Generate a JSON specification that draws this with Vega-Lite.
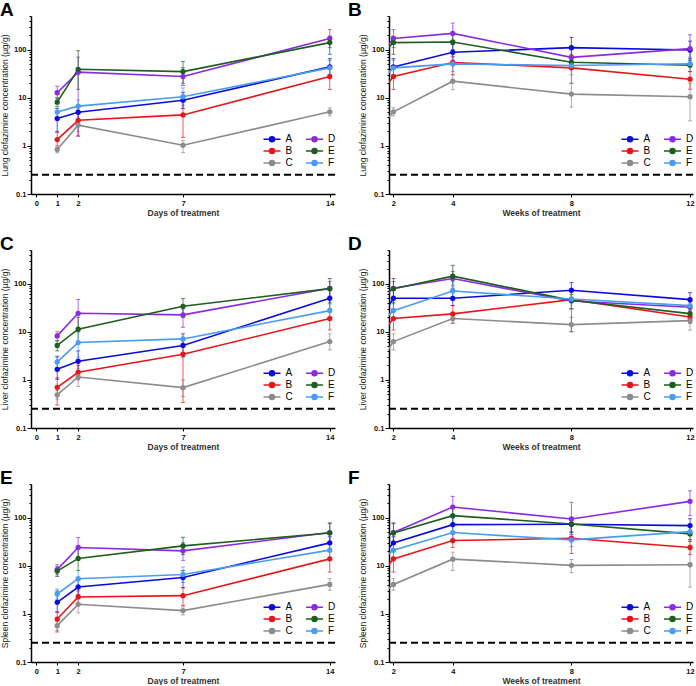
{
"$schema": "https://vega.github.io/schema/vega-lite/v6.json",
"padding": {"left": 0, "top": 0, "right": 0, "bottom": 0},
"datasets": {
"A": [
{"g":"A","t":1,"v":3.7,"lo":2.0,"hi":6.0},{"g":"A","t":2,"v":5.0,"lo":3.5,"hi":7.0},{"g":"A","t":7,"v":8.9,"lo":6.0,"hi":13},{"g":"A","t":14,"v":43.8,"lo":30,"hi":65},
{"g":"B","t":1,"v":1.35,"lo":1.0,"hi":1.9},{"g":"B","t":2,"v":3.4,"lo":1.6,"hi":5.0},{"g":"B","t":7,"v":4.4,"lo":1.5,"hi":8.5},{"g":"B","t":14,"v":27.6,"lo":14.9,"hi":40},
{"g":"C","t":1,"v":0.84,"lo":0.72,"hi":0.95},{"g":"C","t":2,"v":2.7,"lo":2.0,"hi":3.2},{"g":"C","t":7,"v":1.03,"lo":0.73,"hi":1.3},{"g":"C","t":14,"v":5.1,"lo":4.2,"hi":6.2},
{"g":"D","t":1,"v":12.7,"lo":9.5,"hi":17.4},{"g":"D","t":2,"v":34,"lo":1.6,"hi":70},{"g":"D","t":7,"v":27.6,"lo":18,"hi":42},{"g":"D","t":14,"v":171,"lo":110,"hi":260},
{"g":"E","t":1,"v":8.1,"lo":6.5,"hi":10},{"g":"E","t":2,"v":39,"lo":15,"hi":95},{"g":"E","t":7,"v":35,"lo":20,"hi":57},{"g":"E","t":14,"v":140,"lo":80,"hi":190},
{"g":"F","t":1,"v":5.05,"lo":4.0,"hi":6.0},{"g":"F","t":2,"v":6.7,"lo":5.0,"hi":9.0},{"g":"F","t":7,"v":10.5,"lo":7,"hi":16},{"g":"F","t":14,"v":41.8,"lo":30,"hi":60}
],
"B": [
{"g":"A","t":1,"v":8.9,"lo":6,"hi":13},{"g":"A","t":2,"v":43.8,"lo":30,"hi":65},{"g":"A","t":4,"v":88,"lo":60,"hi":130},{"g":"A","t":8,"v":110,"lo":70,"hi":180},{"g":"A","t":12,"v":98,"lo":60,"hi":150},
{"g":"B","t":1,"v":4.4,"lo":1.5,"hi":8.5},{"g":"B","t":2,"v":27.6,"lo":14.9,"hi":40},{"g":"B","t":4,"v":53.8,"lo":30,"hi":73},{"g":"B","t":8,"v":41.8,"lo":20,"hi":80},{"g":"B","t":12,"v":24.3,"lo":15,"hi":35},
{"g":"C","t":1,"v":1.03,"lo":0.73,"hi":1.3},{"g":"C","t":2,"v":5.1,"lo":4.2,"hi":6.2},{"g":"C","t":4,"v":22.1,"lo":14.9,"hi":30},{"g":"C","t":8,"v":11.9,"lo":6.4,"hi":20},{"g":"C","t":12,"v":10.5,"lo":3.3,"hi":20},
{"g":"D","t":1,"v":27.6,"lo":18,"hi":42},{"g":"D","t":2,"v":171,"lo":110,"hi":260},{"g":"D","t":4,"v":218,"lo":127,"hi":356},{"g":"D","t":8,"v":69,"lo":50,"hi":100},{"g":"D","t":12,"v":105,"lo":50,"hi":204},
{"g":"E","t":1,"v":35,"lo":20,"hi":57},{"g":"E","t":2,"v":140,"lo":80,"hi":190},{"g":"E","t":4,"v":144,"lo":100,"hi":200},{"g":"E","t":8,"v":54.7,"lo":40,"hi":75},{"g":"E","t":12,"v":47.4,"lo":35,"hi":65},
{"g":"F","t":1,"v":10.5,"lo":7,"hi":16},{"g":"F","t":2,"v":41.8,"lo":30,"hi":60},{"g":"F","t":4,"v":50.5,"lo":35,"hi":70},{"g":"F","t":8,"v":46.7,"lo":30,"hi":65},{"g":"F","t":12,"v":51,"lo":35,"hi":70}
],
"C": [
{"g":"A","t":1,"v":1.66,"lo":1.03,"hi":3.1},{"g":"A","t":2,"v":2.44,"lo":1.5,"hi":4},{"g":"A","t":7,"v":5.2,"lo":3,"hi":7},{"g":"A","t":14,"v":49.6,"lo":30,"hi":80},
{"g":"B","t":1,"v":0.70,"lo":0.3,"hi":1.1},{"g":"B","t":2,"v":1.44,"lo":1.0,"hi":2.0},{"g":"B","t":7,"v":3.41,"lo":0.34,"hi":9},{"g":"B","t":14,"v":18.8,"lo":10.9,"hi":28},
{"g":"C","t":1,"v":0.49,"lo":0.4,"hi":0.6},{"g":"C","t":2,"v":1.15,"lo":0.73,"hi":1.75},{"g":"C","t":7,"v":0.69,"lo":0.45,"hi":1.0},{"g":"C","t":14,"v":6.25,"lo":4.2,"hi":9},
{"g":"D","t":1,"v":8.2,"lo":6.5,"hi":10},{"g":"D","t":2,"v":24.2,"lo":10,"hi":47},{"g":"D","t":7,"v":22.4,"lo":12.4,"hi":30},{"g":"D","t":14,"v":80,"lo":55,"hi":110},
{"g":"E","t":1,"v":5.2,"lo":4,"hi":6.5},{"g":"E","t":2,"v":11.3,"lo":6,"hi":20},{"g":"E","t":7,"v":33.8,"lo":20,"hi":49},{"g":"E","t":14,"v":78.7,"lo":40,"hi":128},
{"g":"F","t":1,"v":2.36,"lo":1.8,"hi":3},{"g":"F","t":2,"v":5.96,"lo":3,"hi":10},{"g":"F","t":7,"v":7.1,"lo":5,"hi":9.3},{"g":"F","t":14,"v":27.5,"lo":20,"hi":38}
],
"D": [
{"g":"A","t":1,"v":5.2,"lo":3,"hi":7},{"g":"A","t":2,"v":49.6,"lo":30,"hi":80},{"g":"A","t":4,"v":49.6,"lo":35,"hi":70},{"g":"A","t":8,"v":72.7,"lo":50,"hi":105},{"g":"A","t":12,"v":46.5,"lo":33,"hi":65},
{"g":"B","t":1,"v":3.41,"lo":0.34,"hi":9},{"g":"B","t":2,"v":18.8,"lo":10.9,"hi":28},{"g":"B","t":4,"v":23.5,"lo":15,"hi":35},{"g":"B","t":8,"v":46.5,"lo":30,"hi":70},{"g":"B","t":12,"v":20.3,"lo":15,"hi":27},
{"g":"C","t":1,"v":0.69,"lo":0.45,"hi":1.0},{"g":"C","t":2,"v":6.25,"lo":4.2,"hi":9},{"g":"C","t":4,"v":18.8,"lo":15,"hi":23},{"g":"C","t":8,"v":14.1,"lo":10,"hi":20},{"g":"C","t":12,"v":17,"lo":10.8,"hi":25},
{"g":"D","t":1,"v":22.4,"lo":12.4,"hi":30},{"g":"D","t":2,"v":80,"lo":55,"hi":110},{"g":"D","t":4,"v":128,"lo":90,"hi":180},{"g":"D","t":8,"v":43.7,"lo":10,"hi":80},{"g":"D","t":12,"v":32.3,"lo":25,"hi":42},
{"g":"E","t":1,"v":33.8,"lo":20,"hi":49},{"g":"E","t":2,"v":78.7,"lo":40,"hi":128},{"g":"E","t":4,"v":143,"lo":80,"hi":240},{"g":"E","t":8,"v":45,"lo":30,"hi":60},{"g":"E","t":12,"v":23.8,"lo":18,"hi":30},
{"g":"F","t":1,"v":7.1,"lo":5,"hi":9.3},{"g":"F","t":2,"v":27.5,"lo":20,"hi":38},{"g":"F","t":4,"v":70.4,"lo":45,"hi":110},{"g":"F","t":8,"v":48,"lo":30,"hi":70},{"g":"F","t":12,"v":34.9,"lo":27,"hi":45}
],
"E": [
{"g":"A","t":1,"v":1.74,"lo":1.08,"hi":3.0},{"g":"A","t":2,"v":3.62,"lo":2.5,"hi":5},{"g":"A","t":7,"v":5.7,"lo":3.5,"hi":8},{"g":"A","t":14,"v":29.9,"lo":20,"hi":40},
{"g":"B","t":1,"v":0.78,"lo":0.42,"hi":1.1},{"g":"B","t":2,"v":2.25,"lo":1.6,"hi":3},{"g":"B","t":7,"v":2.39,"lo":1.5,"hi":3.5},{"g":"B","t":14,"v":13.9,"lo":7.4,"hi":20},
{"g":"C","t":1,"v":0.57,"lo":0.45,"hi":0.7},{"g":"C","t":2,"v":1.58,"lo":1.05,"hi":2.2},{"g":"C","t":7,"v":1.17,"lo":0.95,"hi":1.4},{"g":"C","t":14,"v":4.1,"lo":3.1,"hi":5.4},
{"g":"D","t":1,"v":8.3,"lo":6.5,"hi":10.5},{"g":"D","t":2,"v":24,"lo":14,"hi":38.5},{"g":"D","t":7,"v":20.4,"lo":12.9,"hi":30},{"g":"D","t":14,"v":49,"lo":30,"hi":75},
{"g":"E","t":1,"v":7.75,"lo":6,"hi":9.5},{"g":"E","t":2,"v":14.2,"lo":8,"hi":25},{"g":"E","t":7,"v":25.9,"lo":17,"hi":39},{"g":"E","t":14,"v":48,"lo":30,"hi":78},
{"g":"F","t":1,"v":2.59,"lo":2,"hi":3.3},{"g":"F","t":2,"v":5.38,"lo":3.5,"hi":8},{"g":"F","t":7,"v":6.6,"lo":4.5,"hi":9.4},{"g":"F","t":14,"v":21.1,"lo":15,"hi":28}
],
"F": [
{"g":"A","t":1,"v":5.7,"lo":3.5,"hi":8},{"g":"A","t":2,"v":29.9,"lo":20,"hi":40},{"g":"A","t":4,"v":71.6,"lo":50,"hi":100},{"g":"A","t":8,"v":72.8,"lo":50,"hi":100},{"g":"A","t":12,"v":68.3,"lo":50,"hi":95},
{"g":"B","t":1,"v":2.39,"lo":1.5,"hi":3.5},{"g":"B","t":2,"v":13.9,"lo":7.4,"hi":20},{"g":"B","t":4,"v":33.4,"lo":24,"hi":45},{"g":"B","t":8,"v":37.3,"lo":18,"hi":70},{"g":"B","t":12,"v":24,"lo":17,"hi":35},
{"g":"C","t":1,"v":1.17,"lo":0.95,"hi":1.4},{"g":"C","t":2,"v":4.1,"lo":3.1,"hi":5.4},{"g":"C","t":4,"v":13.7,"lo":8,"hi":19.2},{"g":"C","t":8,"v":10.2,"lo":7.2,"hi":13.5},{"g":"C","t":12,"v":10.5,"lo":3.6,"hi":22.5},
{"g":"D","t":1,"v":20.4,"lo":12.9,"hi":30},{"g":"D","t":2,"v":49,"lo":30,"hi":75},{"g":"D","t":4,"v":166,"lo":100,"hi":277},{"g":"D","t":8,"v":93.8,"lo":45,"hi":208},{"g":"D","t":12,"v":218,"lo":110,"hi":362},
{"g":"E","t":1,"v":25.9,"lo":17,"hi":39},{"g":"E","t":2,"v":48,"lo":30,"hi":78},{"g":"E","t":4,"v":110,"lo":70,"hi":170},{"g":"E","t":8,"v":74,"lo":50,"hi":100},{"g":"E","t":12,"v":45.9,"lo":32,"hi":65},
{"g":"F","t":1,"v":6.6,"lo":4.5,"hi":9.4},{"g":"F","t":2,"v":21.1,"lo":15,"hi":28},{"g":"F","t":4,"v":49,"lo":30,"hi":70},{"g":"F","t":8,"v":34.5,"lo":25,"hi":45},{"g":"F","t":12,"v":51.3,"lo":35,"hi":75}
]
},
"columns": 2,
"spacing": {"row": 56, "column": 54},
"bounds": "flush",
"resolve": {"scale": {"color": "independent"}, "legend": {"color": "independent"}},
"concat": [
{"data": {"name": "A"}, "width": 304, "height": 178, "title": {"text": "A", "dx": -31},
"layer": [
{"data": {"values": [{"loq": 0.25}]}, "mark": {"type": "rule", "strokeDash": [7, 4], "strokeWidth": 2, "color": "black"}, "encoding": {"y": {"field": "loq", "type": "quantitative", "title": "Lung clofazimine concentration (µg/g)", "scale": {"type": "log", "domain": [0.1, 500], "nice": false}}}},
{"mark": {"type": "errorbar", "ticks": {"size": 4, "opacity": 0.7}, "rule": {"opacity": 0.7}, "thickness": 1}, "encoding": {"x": {"field": "t", "type": "quantitative", "title": "Days of treatment", "scale": {"domain": [-0.25, 14.25], "nice": false, "zero": false}, "axis": {"values": [0, 1, 2, 7, 14]}}, "y": {"field": "lo", "type": "quantitative", "title": "Lung clofazimine concentration (µg/g)", "scale": {"type": "log", "domain": [0.1, 500], "nice": false}}, "y2": {"field": "hi"}, "color": {"field": "g", "type": "nominal", "scale": {"domain": ["A","B","C","D","E","F"], "range": ["#0b0bdf","#e8151b","#8c8c8c","#8a2be2","#1e5e1e","#4a9cf0"]}}}},
{"mark": {"type": "line", "strokeWidth": 1.6, "clip": true}, "encoding": {"x": {"field": "t", "type": "quantitative", "title": "Days of treatment"}, "y": {"field": "v", "type": "quantitative", "title": "Lung clofazimine concentration (µg/g)"}, "color": {"field": "g", "type": "nominal"}}},
{"mark": {"type": "point", "filled": true, "size": 28, "opacity": 1, "clip": true}, "encoding": {"x": {"field": "t", "type": "quantitative", "title": "Days of treatment"}, "y": {"field": "v", "type": "quantitative", "title": "Lung clofazimine concentration (µg/g)", "axis": {"values": [0.1,0.2,0.3,0.4,0.5,0.6,0.7,0.8,0.9,1,2,3,4,5,6,7,8,9,10,20,30,40,50,60,70,80,90,100,200,300,400,500], "labelExpr": "indexof([0.1,1,10,100], datum.value) >= 0 ? format(datum.value, '~g') : ''", "tickSize": {"condition": {"test": "indexof([0.1,1,10,100], datum.value) >= 0", "value": 4}, "value": 2}}}, "color": {"field": "g", "type": "nominal", "legend": {"orient": "none", "legendX": 235, "legendY": 117, "columns": 2, "title": null}}}}
]},
{"data": {"name": "B"}, "width": 304, "height": 178, "title": {"text": "B", "dx": -41},
"layer": [
{"data": {"values": [{"loq": 0.25}]}, "mark": {"type": "rule", "strokeDash": [7, 4], "strokeWidth": 2, "color": "black"}, "encoding": {"y": {"field": "loq", "type": "quantitative", "title": "Lung clofazimine concentration (µg/g)", "scale": {"type": "log", "domain": [0.1, 500], "nice": false}}}},
{"transform": [{"filter": "datum.t > 1.5"}], "mark": {"type": "errorbar", "ticks": {"size": 4, "opacity": 0.7}, "rule": {"opacity": 0.7}, "thickness": 1}, "encoding": {"x": {"field": "t", "type": "quantitative", "title": "Weeks of treatment", "scale": {"domain": [1.85, 12.1], "nice": false, "zero": false}, "axis": {"values": [2, 4, 8, 12]}}, "y": {"field": "lo", "type": "quantitative", "title": "Lung clofazimine concentration (µg/g)", "scale": {"type": "log", "domain": [0.1, 500], "nice": false}}, "y2": {"field": "hi"}, "color": {"field": "g", "type": "nominal", "scale": {"domain": ["A","B","C","D","E","F"], "range": ["#0b0bdf","#e8151b","#8c8c8c","#8a2be2","#1e5e1e","#4a9cf0"]}}}},
{"mark": {"type": "line", "strokeWidth": 1.6, "clip": true}, "encoding": {"x": {"field": "t", "type": "quantitative", "title": "Weeks of treatment"}, "y": {"field": "v", "type": "quantitative", "title": "Lung clofazimine concentration (µg/g)"}, "color": {"field": "g", "type": "nominal"}}},
{"mark": {"type": "point", "filled": true, "size": 28, "opacity": 1, "clip": true}, "encoding": {"x": {"field": "t", "type": "quantitative", "title": "Weeks of treatment"}, "y": {"field": "v", "type": "quantitative", "title": "Lung clofazimine concentration (µg/g)", "axis": {"values": [0.1,0.2,0.3,0.4,0.5,0.6,0.7,0.8,0.9,1,2,3,4,5,6,7,8,9,10,20,30,40,50,60,70,80,90,100,200,300,400,500], "labelExpr": "indexof([0.1,1,10,100], datum.value) >= 0 ? format(datum.value, '~g') : ''", "tickSize": {"condition": {"test": "indexof([0.1,1,10,100], datum.value) >= 0", "value": 4}, "value": 2}}}, "color": {"field": "g", "type": "nominal", "legend": {"orient": "none", "legendX": 235, "legendY": 117, "columns": 2, "title": null}}}}
]},
{"data": {"name": "C"}, "width": 304, "height": 178, "title": {"text": "C", "dx": -31},
"layer": [
{"data": {"values": [{"loq": 0.25}]}, "mark": {"type": "rule", "strokeDash": [7, 4], "strokeWidth": 2, "color": "black"}, "encoding": {"y": {"field": "loq", "type": "quantitative", "title": "Liver clofazimine concentration (µg/g)", "scale": {"type": "log", "domain": [0.1, 500], "nice": false}}}},
{"mark": {"type": "errorbar", "ticks": {"size": 4, "opacity": 0.7}, "rule": {"opacity": 0.7}, "thickness": 1}, "encoding": {"x": {"field": "t", "type": "quantitative", "title": "Days of treatment", "scale": {"domain": [-0.25, 14.25], "nice": false, "zero": false}, "axis": {"values": [0, 1, 2, 7, 14]}}, "y": {"field": "lo", "type": "quantitative", "title": "Liver clofazimine concentration (µg/g)", "scale": {"type": "log", "domain": [0.1, 500], "nice": false}}, "y2": {"field": "hi"}, "color": {"field": "g", "type": "nominal", "scale": {"domain": ["A","B","C","D","E","F"], "range": ["#0b0bdf","#e8151b","#8c8c8c","#8a2be2","#1e5e1e","#4a9cf0"]}}}},
{"mark": {"type": "line", "strokeWidth": 1.6, "clip": true}, "encoding": {"x": {"field": "t", "type": "quantitative", "title": "Days of treatment"}, "y": {"field": "v", "type": "quantitative", "title": "Liver clofazimine concentration (µg/g)"}, "color": {"field": "g", "type": "nominal"}}},
{"mark": {"type": "point", "filled": true, "size": 28, "opacity": 1, "clip": true}, "encoding": {"x": {"field": "t", "type": "quantitative", "title": "Days of treatment"}, "y": {"field": "v", "type": "quantitative", "title": "Liver clofazimine concentration (µg/g)", "axis": {"values": [0.1,0.2,0.3,0.4,0.5,0.6,0.7,0.8,0.9,1,2,3,4,5,6,7,8,9,10,20,30,40,50,60,70,80,90,100,200,300,400,500], "labelExpr": "indexof([0.1,1,10,100], datum.value) >= 0 ? format(datum.value, '~g') : ''", "tickSize": {"condition": {"test": "indexof([0.1,1,10,100], datum.value) >= 0", "value": 4}, "value": 2}}}, "color": {"field": "g", "type": "nominal", "legend": {"orient": "none", "legendX": 235, "legendY": 117, "columns": 2, "title": null}}}}
]},
{"data": {"name": "D"}, "width": 304, "height": 178, "title": {"text": "D", "dx": -41},
"layer": [
{"data": {"values": [{"loq": 0.25}]}, "mark": {"type": "rule", "strokeDash": [7, 4], "strokeWidth": 2, "color": "black"}, "encoding": {"y": {"field": "loq", "type": "quantitative", "title": "Liver clofazimine concentration (µg/g)", "scale": {"type": "log", "domain": [0.1, 500], "nice": false}}}},
{"transform": [{"filter": "datum.t > 1.5"}], "mark": {"type": "errorbar", "ticks": {"size": 4, "opacity": 0.7}, "rule": {"opacity": 0.7}, "thickness": 1}, "encoding": {"x": {"field": "t", "type": "quantitative", "title": "Weeks of treatment", "scale": {"domain": [1.85, 12.1], "nice": false, "zero": false}, "axis": {"values": [2, 4, 8, 12]}}, "y": {"field": "lo", "type": "quantitative", "title": "Liver clofazimine concentration (µg/g)", "scale": {"type": "log", "domain": [0.1, 500], "nice": false}}, "y2": {"field": "hi"}, "color": {"field": "g", "type": "nominal", "scale": {"domain": ["A","B","C","D","E","F"], "range": ["#0b0bdf","#e8151b","#8c8c8c","#8a2be2","#1e5e1e","#4a9cf0"]}}}},
{"mark": {"type": "line", "strokeWidth": 1.6, "clip": true}, "encoding": {"x": {"field": "t", "type": "quantitative", "title": "Weeks of treatment"}, "y": {"field": "v", "type": "quantitative", "title": "Liver clofazimine concentration (µg/g)"}, "color": {"field": "g", "type": "nominal"}}},
{"mark": {"type": "point", "filled": true, "size": 28, "opacity": 1, "clip": true}, "encoding": {"x": {"field": "t", "type": "quantitative", "title": "Weeks of treatment"}, "y": {"field": "v", "type": "quantitative", "title": "Liver clofazimine concentration (µg/g)", "axis": {"values": [0.1,0.2,0.3,0.4,0.5,0.6,0.7,0.8,0.9,1,2,3,4,5,6,7,8,9,10,20,30,40,50,60,70,80,90,100,200,300,400,500], "labelExpr": "indexof([0.1,1,10,100], datum.value) >= 0 ? format(datum.value, '~g') : ''", "tickSize": {"condition": {"test": "indexof([0.1,1,10,100], datum.value) >= 0", "value": 4}, "value": 2}}}, "color": {"field": "g", "type": "nominal", "legend": {"orient": "none", "legendX": 235, "legendY": 117, "columns": 2, "title": null}}}}
]},
{"data": {"name": "E"}, "width": 304, "height": 178, "title": {"text": "E", "dx": -31},
"layer": [
{"data": {"values": [{"loq": 0.25}]}, "mark": {"type": "rule", "strokeDash": [7, 4], "strokeWidth": 2, "color": "black"}, "encoding": {"y": {"field": "loq", "type": "quantitative", "title": "Spleen clofazimine concentration (µg/g)", "scale": {"type": "log", "domain": [0.1, 500], "nice": false}}}},
{"mark": {"type": "errorbar", "ticks": {"size": 4, "opacity": 0.7}, "rule": {"opacity": 0.7}, "thickness": 1}, "encoding": {"x": {"field": "t", "type": "quantitative", "title": "Days of treatment", "scale": {"domain": [-0.25, 14.25], "nice": false, "zero": false}, "axis": {"values": [0, 1, 2, 7, 14]}}, "y": {"field": "lo", "type": "quantitative", "title": "Spleen clofazimine concentration (µg/g)", "scale": {"type": "log", "domain": [0.1, 500], "nice": false}}, "y2": {"field": "hi"}, "color": {"field": "g", "type": "nominal", "scale": {"domain": ["A","B","C","D","E","F"], "range": ["#0b0bdf","#e8151b","#8c8c8c","#8a2be2","#1e5e1e","#4a9cf0"]}}}},
{"mark": {"type": "line", "strokeWidth": 1.6, "clip": true}, "encoding": {"x": {"field": "t", "type": "quantitative", "title": "Days of treatment"}, "y": {"field": "v", "type": "quantitative", "title": "Spleen clofazimine concentration (µg/g)"}, "color": {"field": "g", "type": "nominal"}}},
{"mark": {"type": "point", "filled": true, "size": 28, "opacity": 1, "clip": true}, "encoding": {"x": {"field": "t", "type": "quantitative", "title": "Days of treatment"}, "y": {"field": "v", "type": "quantitative", "title": "Spleen clofazimine concentration (µg/g)", "axis": {"values": [0.1,0.2,0.3,0.4,0.5,0.6,0.7,0.8,0.9,1,2,3,4,5,6,7,8,9,10,20,30,40,50,60,70,80,90,100,200,300,400,500], "labelExpr": "indexof([0.1,1,10,100], datum.value) >= 0 ? format(datum.value, '~g') : ''", "tickSize": {"condition": {"test": "indexof([0.1,1,10,100], datum.value) >= 0", "value": 4}, "value": 2}}}, "color": {"field": "g", "type": "nominal", "legend": {"orient": "none", "legendX": 235, "legendY": 117, "columns": 2, "title": null}}}}
]},
{"data": {"name": "F"}, "width": 304, "height": 178, "title": {"text": "F", "dx": -41},
"layer": [
{"data": {"values": [{"loq": 0.25}]}, "mark": {"type": "rule", "strokeDash": [7, 4], "strokeWidth": 2, "color": "black"}, "encoding": {"y": {"field": "loq", "type": "quantitative", "title": "Spleen clofazimine concentration (µg/g)", "scale": {"type": "log", "domain": [0.1, 500], "nice": false}}}},
{"transform": [{"filter": "datum.t > 1.5"}], "mark": {"type": "errorbar", "ticks": {"size": 4, "opacity": 0.7}, "rule": {"opacity": 0.7}, "thickness": 1}, "encoding": {"x": {"field": "t", "type": "quantitative", "title": "Weeks of treatment", "scale": {"domain": [1.85, 12.1], "nice": false, "zero": false}, "axis": {"values": [2, 4, 8, 12]}}, "y": {"field": "lo", "type": "quantitative", "title": "Spleen clofazimine concentration (µg/g)", "scale": {"type": "log", "domain": [0.1, 500], "nice": false}}, "y2": {"field": "hi"}, "color": {"field": "g", "type": "nominal", "scale": {"domain": ["A","B","C","D","E","F"], "range": ["#0b0bdf","#e8151b","#8c8c8c","#8a2be2","#1e5e1e","#4a9cf0"]}}}},
{"mark": {"type": "line", "strokeWidth": 1.6, "clip": true}, "encoding": {"x": {"field": "t", "type": "quantitative", "title": "Weeks of treatment"}, "y": {"field": "v", "type": "quantitative", "title": "Spleen clofazimine concentration (µg/g)"}, "color": {"field": "g", "type": "nominal"}}},
{"mark": {"type": "point", "filled": true, "size": 28, "opacity": 1, "clip": true}, "encoding": {"x": {"field": "t", "type": "quantitative", "title": "Weeks of treatment"}, "y": {"field": "v", "type": "quantitative", "title": "Spleen clofazimine concentration (µg/g)", "axis": {"values": [0.1,0.2,0.3,0.4,0.5,0.6,0.7,0.8,0.9,1,2,3,4,5,6,7,8,9,10,20,30,40,50,60,70,80,90,100,200,300,400,500], "labelExpr": "indexof([0.1,1,10,100], datum.value) >= 0 ? format(datum.value, '~g') : ''", "tickSize": {"condition": {"test": "indexof([0.1,1,10,100], datum.value) >= 0", "value": 4}, "value": 2}}}, "color": {"field": "g", "type": "nominal", "legend": {"orient": "none", "legendX": 235, "legendY": 117, "columns": 2, "title": null}}}}
]}
],
"config": {
"font": "Liberation Sans",
"view": {"stroke": null},
"axis": {"grid": false, "domainColor": "black", "domainWidth": 1.5, "tickColor": "black", "tickWidth": 1, "labelFontSize": 7.5, "labelFontWeight": "bold", "labelColor": "#111", "titleFontSize": 8.5, "titleFontWeight": "normal", "titleColor": "#222", "labelFont": "Liberation Sans", "titleFont": "Liberation Sans"},
"axisX": {"tickSize": 3, "labelPadding": 2, "titlePadding": 2, "titleFontWeight": "bold", "titleColor": "#333"},
"axisY": {"labelPadding": 1, "titlePadding": 4},
"title": {"anchor": "start", "frame": "group", "fontSize": 19, "fontWeight": "bold", "font": "Liberation Sans", "color": "black", "offset": -4},
"legend": {"symbolType": "M-1.7,0H1.7M-0.5,0A0.5,0.5,0,1,1,0.5,0A0.5,0.5,0,1,1,-0.5,0Z", "symbolSize": 100, "symbolStrokeWidth": 1.5, "symbolOpacity": 1, "labelFontSize": 10, "labelFont": "Liberation Sans", "labelColor": "black", "labelOffset": 7.5, "columnPadding": 9.5, "rowPadding": 0}
}
}
